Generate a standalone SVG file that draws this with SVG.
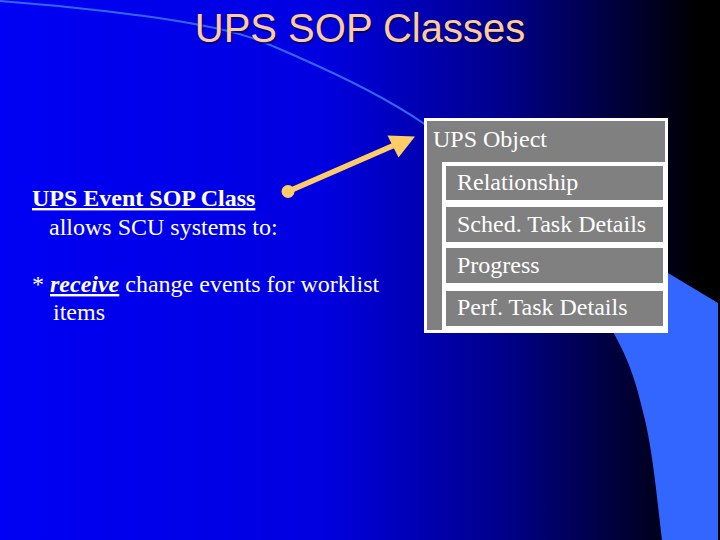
<svg xmlns="http://www.w3.org/2000/svg" width="720" height="540" viewBox="0 0 720 540">
  <defs>
    <linearGradient id="bg" x1="0" y1="0" x2="720" y2="0" gradientUnits="userSpaceOnUse">
      <stop offset="0" stop-color="#0000f4"/>
      <stop offset="0.45" stop-color="#0000e0"/>
      <stop offset="0.7" stop-color="#00008a"/>
      <stop offset="0.88" stop-color="#000030"/>
      <stop offset="0.97" stop-color="#000000"/>
    </linearGradient>
    <style>
      .body { font-family: "Liberation Serif", "Times New Roman", serif; font-size: 24px; fill: #ffffff; }
      .title { font-family: "Liberation Sans", Arial, sans-serif; font-size: 40px; }
      .row { fill: #808080; }
      .frame { fill: #ffffff; }
    </style>
  </defs>

  <rect x="0" y="0" width="720" height="540" fill="url(#bg)"/>

  <!-- light blue decoration -->
  <path d="M500,184 L668,273 L718,303 L718,540 L662,540 C658.2,510 653.3,455 645,420 C636.7,385 631.2,364.2 612,330 C592.8,295.8 561.5,249.5 530,215 C515,199 508,191 500,184 Z" fill="#3366ff"/>
  <path d="M-200,-5 C-130,-3 -60,0 0,1 C66.7,6 150,15.5 200,25 C250,34.5 262.8,41.7 300,58 C337.2,74.3 384.7,96.8 423,123 C461.3,149.2 498.5,180.5 530,215 C561.5,249.5 592.8,295.8 612,330" fill="none" stroke="#3366ff" stroke-width="2"/>

  <!-- title -->
  <g id="title">
    <text class="title" x="361.5" y="43.5" text-anchor="middle" fill="#000040" opacity="0.6">UPS SOP Classes</text>
    <text class="title" x="360" y="42" text-anchor="middle" fill="#ffcc99">UPS SOP Classes</text>
  </g>

  <!-- left text -->
  <g id="event-text">
    <text class="body" x="32" y="206" font-weight="bold" text-decoration="underline">UPS Event SOP Class</text>
    <text class="body" x="49" y="235">allows SCU systems to:</text>
    <text class="body" x="32" y="292">* <tspan font-weight="bold" font-style="italic" text-decoration="underline">receive</tspan> change events for worklist</text>
    <text class="body" x="53" y="320">items</text>
  </g>

  <!-- connector -->
  <g id="connectors">
    <line x1="288" y1="191.5" x2="397" y2="144" stroke="#ffcc66" stroke-width="5.5"/>
    <circle cx="288" cy="191.5" r="6.5" fill="#ffcc66"/>
    <polygon points="415,136.5 387.5,135.5 398.5,157.5" fill="#ffcc66"/>
  </g>

  <!-- UPS Object box -->
  <g id="ups-object">
    <rect class="frame" x="424" y="118" width="244" height="215"/>
    <rect class="row" x="427" y="121" width="238" height="209"/>
    <text class="body" x="433" y="147">UPS Object</text>
    <rect class="frame" x="442" y="162" width="226" height="171"/>
  </g>
  <g id="relationship">
    <rect class="row" x="446" y="166" width="217" height="34"/>
    <text class="body" x="457" y="190">Relationship</text>
  </g>
  <g id="sched-task-details">
    <rect class="row" x="446" y="207" width="217" height="35"/>
    <text class="body" x="457" y="232">Sched. Task Details</text>
  </g>
  <g id="progress">
    <rect class="row" x="446" y="248" width="217" height="35"/>
    <text class="body" x="457" y="273">Progress</text>
  </g>
  <g id="perf-task-details">
    <rect class="row" x="446" y="291" width="217" height="35"/>
    <text class="body" x="457" y="315">Perf. Task Details</text>
  </g>
</svg>
